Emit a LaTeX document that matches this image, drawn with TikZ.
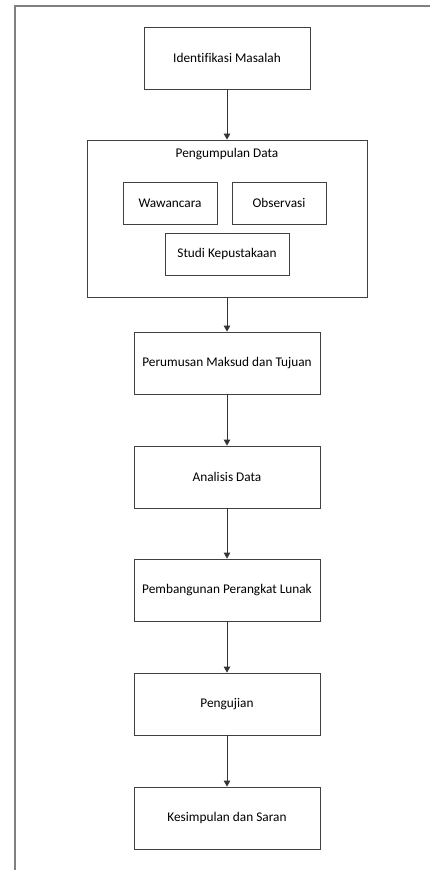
\documentclass[tikz,border=0pt]{standalone}
\usepackage{fontspec}
\setmainfont[Ligatures={NoCommon}]{Carlito}
\usetikzlibrary{arrows.meta,positioning}

\begin{document}
\begin{tikzpicture}
[x=1pt,y=-1pt,font=\fontsize{13.3}{15}\selectfont,
step box/.style={rectangle,draw=black!75,line width=0.8pt,minimum width=186pt,minimum height=62pt,inner sep=0pt},
sub box/.style={rectangle,draw=black!75,line width=0.8pt,minimum width=94pt,minimum height=42pt,inner sep=0pt},
flow/.style={draw=black!80,line width=0.8pt,-{Triangle[length=6pt,width=6.5pt]}}]
\useasboundingbox (0,0) rectangle (430,870);
% frame
\draw[black!50,line width=1.3pt] (15,870) -- (15,6) -- (430,6);
\node[step box,minimum width=166pt] (identifikasi) at (227,58) {Identifikasi Masalah};
\node[step box,minimum width=280pt,minimum height=157pt] (pengumpulan) at (227,218.5) {};
\node (pengumpulan title) at (227,154) {Pengumpulan Data};
\node[sub box] (wawancara) at (170,203) {Wawancara};
\node[sub box] (observasi) at (279,203) {Observasi};
\node[sub box,minimum width=124pt] (kepustakaan) at (227,254) {Studi Kepustakaan};
\node[step box] (perumusan) at (227,363) {Perumusan Maksud dan Tujuan};
\node[step box] (analisis) at (227,477) {Analisis Data};
\node[step box] (pembangunan) at (227,590) {Pembangunan Perangkat Lunak};
\node[step box] (pengujian) at (227,704) {Pengujian};
\node[step box] (kesimpulan) at (227,818) {Kesimpulan dan Saran};
% arrows
\draw[flow] (identifikasi) -- (pengumpulan);
\draw[flow] (pengumpulan) -- (perumusan);
\draw[flow] (perumusan) -- (analisis);
\draw[flow] (analisis) -- (pembangunan);
\draw[flow] (pembangunan) -- (pengujian);
\draw[flow] (pengujian) -- (kesimpulan);
\end{tikzpicture}
\end{document}
